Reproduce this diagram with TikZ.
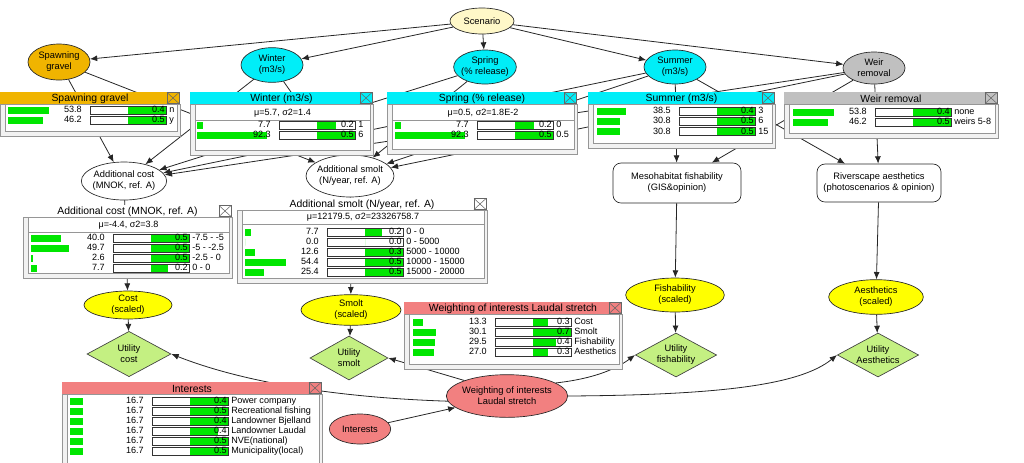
\documentclass[tikz,border=0pt]{standalone}
\usepackage{fontspec}
\setmainfont{Liberation Sans}
\usepackage{xcolor}
\usepackage{tikz}
\usetikzlibrary{shapes.geometric, arrows.meta, calc}
\definecolor{scenarioyellow}{RGB}{255,248,200}
\definecolor{gravelorange}{RGB}{240,180,0}
\definecolor{flowcyan}{RGB}{0,238,248}
\definecolor{weirgray}{RGB}{192,192,192}
\definecolor{scaledyellow}{RGB}{255,255,0}
\definecolor{utilitygreen}{RGB}{196,240,130}
\definecolor{interestred}{RGB}{242,128,128}
\definecolor{bargreen}{RGB}{0,230,0}
\definecolor{framegray}{RGB}{150,150,150}

\newcommand{\nodefont}{\fontsize{7pt}{8.3pt}\selectfont}
\newcommand{\titlefont}{\fontsize{7.8pt}{8.5pt}\selectfont}
\newcommand{\rowfont}{\fontsize{6.8pt}{7.5pt}\selectfont}

\tikzset{
  bnnode/.style={ellipse, draw=black!85, line width=0.5pt, inner xsep=-6pt, inner ysep=0pt, align=center, font=\nodefont},
  bnbox/.style={rectangle, rounded corners=6pt, draw=black!85, line width=0.5pt, fill=white, inner sep=0pt, align=center, font=\nodefont},
  bnutil/.style={diamond, shape aspect=2, draw=black!75, line width=0.5pt, fill=utilitygreen, inner xsep=-3pt, inner ysep=0pt, align=center, font=\nodefont},
  link/.style={-{Latex[length=5.5pt,width=4.5pt]}, line width=0.6pt, black!85},
  rowtext/.style={font=\rowfont, inner sep=0pt, text height=4.8pt, text depth=1.2pt},
}

% monitor window: x left, y top, x right, y bottom, bar colour, title
\newcommand{\monitor}[6]{%
  \draw[framegray, fill=gray!10] (#1,#2+12) rectangle (#3,#4);
  \draw[framegray, fill=white] (#1+5,#2+12) rectangle (#3-3,#4-5);
  \fill[#5] (#1,#2) rectangle (#3,#2+12);
  \node[font=\titlefont, inner sep=0pt] at ({(#1+#3)/2},#2+6.5) {#6};
  \draw[black!60, fill=#5] (#3-13,#2+0.5) rectangle (#3-1,#2+11.5);
  \draw[black!60] (#3-13,#2+0.5) -- (#3-1,#2+11.5) (#3-13,#2+11.5) -- (#3-1,#2+0.5);
}
% mean and variance line: x left, x right, y, text
\newcommand{\monstats}[4]{%
  \node[rowtext] at ({(#1+#2)/2},#3) {#4};
  \draw[framegray] (#1,#3+7) -- (#2,#3+7);
}
% one state: x of bar, y, belief, green share, value, state
\newcommand{\belief}[6]{%
  \fill[bargreen] (#1,#2-3.5) rectangle ({#1+0.76*#3},#2+3.5);
  \node[rowtext, anchor=east] at (#1+74,#2) {#3};
  \draw[black!80, fill=white] (#1+82,#2-4) rectangle (#1+158,#2+4);
  \fill[bargreen] (#1+120,#2-3.6) rectangle ({#1+120+37.6*#4},#2+3.6);
  \draw[black!80] (#1+82,#2-4) rectangle (#1+158,#2+4);
  \node[rowtext, anchor=east] at (#1+157,#2) {#5};
  \node[rowtext, anchor=west] at (#1+161,#2) {#6};
}

\begin{document}
\begin{tikzpicture}[x=0.75pt, y=-0.75pt]
\useasboundingbox (0,0) rectangle (1024,462);

% decision and chance nodes
\node[bnnode, fill=scenarioyellow, minimum width=48pt, minimum height=19.5pt] (scenario) at (482,21) {Scenario};
\node[bnnode, fill=gravelorange, minimum width=46.5pt, minimum height=27pt] (gravel) at (59,62) {Spawning\\gravel};
\node[bnnode, fill=flowcyan, minimum width=46.5pt, minimum height=26pt] (winter) at (272,65) {Winter\\(m3/s)};
\node[bnnode, fill=flowcyan, minimum width=47pt, minimum height=25.5pt] (spring) at (485,67) {Spring\\(\% release)};
\node[bnnode, fill=flowcyan, minimum width=46.5pt, minimum height=25.5pt] (summer) at (675,67) {Summer\\(m3/s)};
\node[bnnode, fill=weirgray, minimum width=46.5pt, minimum height=24pt] (weir) at (874,68) {Weir\\removal};

\node[bnnode, fill=white, minimum width=64pt, minimum height=28.5pt] (addcost) at (124,181) {Additional cost\\(MNOK, ref. A)};
\node[bnnode, fill=white, minimum width=66pt, minimum height=31.5pt] (addsmolt) at (350,176) {Additional smolt\\(N/year, ref. A)};
\node[bnbox, minimum width=96pt, minimum height=30pt] (meso) at (677,183) {Mesohabitat fishability\\(GIS\&opinion)};
\node[bnbox, minimum width=93pt, minimum height=28.5pt] (river) at (879,183) {Riverscape aesthetics\\(photoscenarios \& opinion)};

\node[bnnode, fill=scaledyellow, minimum width=66pt, minimum height=21pt] (costsc) at (128,305) {Cost\\(scaled)};
\node[bnnode, fill=scaledyellow, minimum width=75pt, minimum height=23pt] (smoltsc) at (351,310) {Smolt\\(scaled)};
\node[bnnode, fill=scaledyellow, minimum width=74pt, minimum height=25.5pt] (fishsc) at (675,295) {Fishability\\(scaled)};
\node[bnnode, fill=scaledyellow, minimum width=71pt, minimum height=26pt] (aessc) at (876,297) {Aesthetics\\(scaled)};

\node[bnutil, minimum width=63pt, minimum height=34pt] (ucost) at (129,354) {Utility\\cost};
\node[bnutil, minimum width=58.5pt, minimum height=33pt] (usmolt) at (349,358) {Utility\\smolt};
\node[bnutil, minimum width=61pt, minimum height=33pt] (ufish) at (676,355) {Utility\\fishability};
\node[bnutil, minimum width=61pt, minimum height=33pt] (uaes) at (878,355) {Utility\\Aesthetics};

\node[bnnode, fill=interestred, minimum width=91pt, minimum height=32pt] (weighting) at (507,396) {Weighting of interests\\Laudal stretch};
\node[bnnode, fill=interestred, minimum width=46pt, minimum height=22.5pt] (interests) at (360,429) {Interests};

% links
\foreach \target in {gravel,winter,spring,summer,weir}
  \draw[link] (scenario) -- (\target);
\foreach \src in {gravel,winter,spring,summer,weir} {
  \draw[link] (\src) -- (addcost);
  \draw[link] (\src) -- (addsmolt);
}
\draw[link] (summer) -- (meso);
\draw[link] (summer) -- (river);
\draw[link] (weir) -- (meso);
\draw[link] (weir) -- (river);
\draw[link] (addcost) -- (costsc);
\draw[link] (addsmolt) -- (smoltsc);
\draw[link] (meso) -- (fishsc);
\draw[link] (river) -- (aessc);
\draw[link] (costsc) -- (ucost);
\draw[link] (smoltsc) -- (usmolt);
\draw[link] (fishsc) -- (ufish);
\draw[link] (aessc) -- (uaes);
\draw[link] (interests) -- (weighting);
\draw[link] (weighting.160) -- (usmolt.east);
\draw[link] (weighting.185) .. controls (350,398) and (250,385) .. (ucost.east);
\draw[link] (weighting.15) .. controls (600,378) and (620,366) .. (ufish.west);
\draw[link] (weighting.east) .. controls (720,395) and (800,385) .. (uaes.west);

% monitor windows
\monitor{0}{92}{180}{136}{gravelorange}{Spawning gravel}
\foreach \y/\p/\f/\v/\s in {110/53.8/1/0.4/n, 120.3/46.2/1/0.5/y}
  {\belief{8}{\y}{\p}{\f}{\v}{\s}}

\monitor{190}{92}{373}{155}{flowcyan}{Winter (m3/s)}
\monstats{195}{370}{113}{μ=5.7, σ2=1.4}
\foreach \y/\p/\f/\v/\s in {125/7.7/0.5/0.2/1, 135/92.3/1/0.5/6}
  {\belief{197}{\y}{\p}{\f}{\v}{\s}}

\monitor{387}{92}{577}{154}{flowcyan}{Spring (\% release)}
\monstats{392}{574}{113}{μ=0.5, σ2=1.8E-2}
\foreach \y/\p/\f/\v/\s in {125/7.7/0.5/0.2/0, 135/92.3/1/0.5/0.5}
  {\belief{395}{\y}{\p}{\f}{\v}{\s}}

\monitor{588}{92}{775}{148}{flowcyan}{Summer (m3/s)}
\foreach \y/\p/\f/\v/\s in {111/38.5/1/0.4/3, 121.3/30.8/1/0.5/6, 131.6/30.8/1/0.5/15}
  {\belief{597}{\y}{\p}{\f}{\v}{\s}}

\monitor{784}{92}{998}{138}{weirgray}{Weir removal}
\foreach \y/\p/\f/\v/\s in {112/53.8/1/0.4/none, 122/46.2/1/0.5/weirs 5-8}
  {\belief{793}{\y}{\p}{\f}{\v}{\s}}

\monitor{23}{205}{232}{278}{white}{Additional cost (MNOK, ref. A)}
\monstats{28}{229}{225}{μ=-4.4, σ2=3.8}
\foreach \y/\p/\f/\v/\s in {238/40.0/1/0.5/-7.5 - -5, 248/49.7/1/0.5/-5 - -2.5, 258/2.6/1/0.5/-2.5 - 0, 268/7.7/0.45/0.2/0 - 0}
  {\belief{31}{\y}{\p}{\f}{\v}{\s}}

\monitor{237}{198}{487}{283}{white}{Additional smolt (N/year, ref. A)}
\monstats{242}{484}{217}{μ=12179.5, σ2=23326758.7}
\foreach \y/\p/\f/\v/\s in {232/7.7/0.45/0.2/0 - 0, 242/0.0/0/0.0/0 - 5000, 252/12.6/1/0.3/5000 - 10000, 262/54.4/1/0.5/10000 - 15000, 272/25.4/1/0.5/15000 - 20000}
  {\belief{245}{\y}{\p}{\f}{\v}{\s}}

\monitor{404}{302}{622}{369}{interestred}{Weighting of interests Laudal stretch}
\foreach \y/\p/\f/\v/\s in {322/13.3/0.4/0.3/Cost, 332/30.1/1/0.7/Smolt, 342/29.5/0.6/0.4/Fishability, 352/27.0/0.4/0.3/Aesthetics}
  {\belief{413}{\y}{\p}{\f}{\v}{\s}}

\monitor{62}{382}{322}{468}{interestred}{Interests}
\foreach \y/\f/\v/\s in {401/1/0.4/Power company, 411/1/0.5/Recreational fishing, 421/1/0.4/Landowner Bjelland, 431/0.75/0.4/Landowner Laudal, 441/1/0.5/NVE(national), 451/1/0.5/Municipality(local)}
  {\belief{70}{\y}{16.7}{\f}{\v}{\s}}
\end{tikzpicture}
\end{document}
